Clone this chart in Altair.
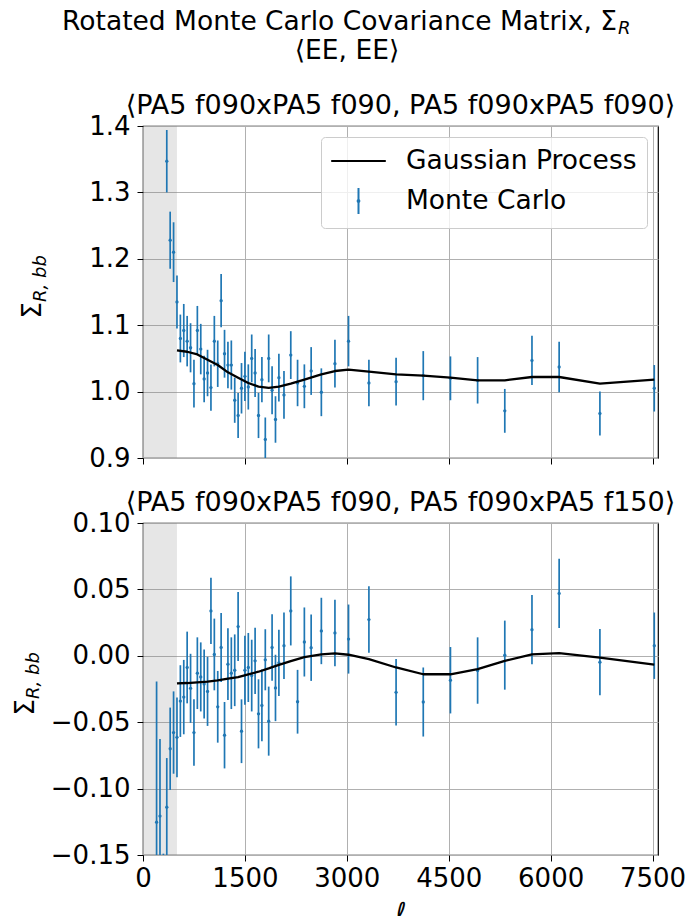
import altair as alt
import pandas as pd

# ---------------- data ----------------
SERIES = ["Gaussian Process", "Monte Carlo"]
BLUE = "#1f77b4"
FONT = "DejaVu Sans"

MASK_LO = [0]
MASK_HI = [500]

ELL_LOW = [200, 250, 300]
ELL_MAIN = [350, 400, 450, 500, 550, 600, 650, 700, 750, 800, 850, 900, 950, 1000,
            1050, 1100, 1150, 1200, 1250, 1300, 1350, 1400, 1450, 1500, 1550, 1600,
            1650, 1700, 1750, 1800, 1850, 1900, 1950, 2000, 2075, 2175, 2275, 2375,
            2475, 2625, 2825, 3025, 3325, 3725, 4125, 4525, 4925, 5325, 5725, 6125,
            6725, 7525]

VAL_TOP = [1.347, 1.228, 1.210, 1.135, 1.080, 1.092, 1.076, 1.066, 1.012, 1.092,
           1.064, 1.019, 1.028, 1.006, 1.076, 1.042, 1.137, 1.057, 1.040, 1.040,
           0.987, 0.964, 1.005, 1.023, 1.007, 1.050, 1.028, 0.964, 1.018, 0.928,
           1.050, 1.002, 0.958, 1.021, 0.995, 1.055, 1.013, 1.008, 1.031, 0.999,
           1.042, 1.076, 1.013, 1.015, 1.024, 1.020, 1.017, 0.971, 1.047, 1.037,
           0.967, 1.005]
ERR_TOP = [0.047, 0.043, 0.045, 0.040, 0.036, 0.040, 0.038, 0.037, 0.036, 0.037,
           0.038, 0.035, 0.035, 0.035, 0.038, 0.035, 0.040, 0.036, 0.035, 0.037,
           0.034, 0.034, 0.038, 0.037, 0.034, 0.036, 0.036, 0.034, 0.034, 0.033,
           0.036, 0.036, 0.035, 0.036, 0.036, 0.036, 0.035, 0.033, 0.036, 0.036,
           0.036, 0.038, 0.035, 0.036, 0.037, 0.033, 0.035, 0.033, 0.037, 0.038,
           0.033, 0.035]

VAL_BOT = [-0.1253, -0.1207, -0.175, -0.114, -0.070, -0.0578, -0.0614, -0.0341,
           -0.0311, -0.0088, -0.0245, -0.0578, -0.0131, -0.0159, -0.0212, -0.0268,
           0.0338, 0.0010, -0.0384, 0.0063, -0.0598, -0.0063, -0.0131, -0.0109,
           0.0220, -0.0568, -0.0109, -0.0088, -0.0149, -0.0038, -0.0437, -0.0374,
           -0.0030, -0.0492, 0.0063, -0.0242, -0.0053, 0.0076, 0.0338, -0.0346,
           0.0104, 0.0061, 0.0187, 0.0172, 0.0126, 0.0273, -0.0275, -0.0348,
           -0.0184, -0.0111, 0.0005, 0.0197, 0.0470, -0.0048, 0.0076]
ERR_BOT = [0.106, 0.058, 0.026, 0.037, 0.031, 0.031, 0.030, 0.027, 0.028, 0.027,
           0.026, 0.025, 0.027, 0.026, 0.026, 0.026, 0.025, 0.027, 0.027, 0.026,
           0.025, 0.027, 0.027, 0.027, 0.026, 0.024, 0.026, 0.026, 0.027, 0.025,
           0.026, 0.027, 0.023, 0.026, 0.025, 0.025, 0.025, 0.025, 0.026, 0.024,
           0.026, 0.025, 0.025, 0.025, 0.026, 0.025, 0.025, 0.026, 0.025, 0.025,
           0.026, 0.026, 0.026, 0.025, 0.025]

GP_ELL = [500, 650, 800, 950, 1100, 1250, 1400, 1550, 1700, 1850, 2000, 2175, 2375,
          2625, 2825, 3025, 3325, 3725, 4125, 4525, 4925, 5325, 5725, 6125, 6725, 7525]
GP_TOP = [1.062, 1.060, 1.056, 1.048, 1.040, 1.029, 1.021, 1.013, 1.0075, 1.0055,
          1.0075, 1.012, 1.018, 1.026, 1.031, 1.033, 1.030, 1.026, 1.024, 1.021,
          1.017, 1.017, 1.022, 1.022, 1.012, 1.018]
GP_BOT = [-0.0207, -0.0205, -0.0200, -0.0195, -0.0185, -0.0172, -0.0160, -0.0140,
          -0.0120, -0.0095, -0.0068, -0.0040, -0.0010, 0.0010, 0.0018, 0.0008,
          -0.0025, -0.0088, -0.0139, -0.0139, -0.0101, -0.0038, 0.0010, 0.0020,
          -0.0013, -0.0066]

X_DOMAIN = [0, 7580]
X_TICKS = [0, 1500, 3000, 4500, 6000, 7500]
Y_TOP_DOMAIN = [0.9, 1.4]
Y_TOP_TICKS = [0.9, 1.0, 1.1, 1.2, 1.3, 1.4]
Y_BOT_DOMAIN = [-0.15, 0.10]
Y_BOT_TICKS = [-0.15, -0.10, -0.05, 0.0, 0.05, 0.10]

TITLE_MAIN = "Rotated Monte Carlo Covariance Matrix, Σ"
TITLE_MAIN_SUB = "R"
TITLE_LINE2 = "⟨EE, EE⟩"
SUBTITLES = ["⟨PA5 f090xPA5 f090, PA5 f090xPA5 f090⟩",
             "⟨PA5 f090xPA5 f090, PA5 f090xPA5 f150⟩"]
YLAB_MAIN = "Σ"
YLAB_SUB = "R, bb"
XLAB = "ℓ"

W, H = 515, 332

LEGEND_SHAPES = ("datum.value === 'Monte Carlo' ? "
                 "'M0,-1V1M-0.07,0A0.07,0.07 0 1,0 0.07,0A0.07,0.07 0 1,0 -0.07,0' "
                 ": 'M-2.1,0H2.1'")


def text_layer(s, x, y, size=26, align="center", style="normal", angle=0):
    return alt.Chart(pd.DataFrame({"t": [s]})).mark_text(
        align=align, baseline="alphabetic", fontSize=size, font=FONT,
        fontStyle=style, angle=angle, color="black"
    ).encode(text="t:N", x=alt.value(x), y=alt.value(y))


def panel(ell, val, err, gp, ydom, yticks, yfmt, subtitle, bottom, legend, ylab_x):
    df = pd.DataFrame({"ell": ell, "val": val, "err": err})
    df["lo"] = df["val"] - df["err"]
    df["hi"] = df["val"] + df["err"]
    df["series"] = SERIES[1]
    gdf = pd.DataFrame({"ell": GP_ELL, "gp": gp, "series": SERIES[0]})
    mdf = pd.DataFrame({"x0": MASK_LO, "x1": MASK_HI})

    xaxis = alt.Axis(values=X_TICKS, format="d", labels=bottom,
                     title=XLAB if bottom else None,
                     titleFontStyle="italic", titleFontSize=26, titleFont=FONT,
                     titlePadding=8, labelPadding=4)
    xs = alt.Scale(domain=X_DOMAIN, nice=False, zero=False)
    ys = alt.Scale(domain=ydom, nice=False, zero=False)
    yaxis = alt.Axis(values=yticks, format=yfmt, title=None, labelPadding=7)

    mask = alt.Chart(mdf).mark_rect(color="gray", opacity=0.2).encode(
        x=alt.X("x0:Q", scale=xs, axis=xaxis), x2="x1:Q")

    if legend:
        sscale = alt.Scale(domain=SERIES, range=["black", BLUE])
        leg = alt.Legend(
            title=None, orient="top-right", offset=11,
            fillColor="rgba(255,255,255,0.8)", strokeColor="#cccccc",
            cornerRadius=4, padding=10, labelFont=FONT, labelFontSize=26.5,
            labelColor="black", labelLimit=500, symbolSize=676,
            symbolStrokeWidth=2, symbolOffset=13.5, labelOffset=33.5, rowPadding=9,
            symbolType=alt.ExprRef(expr=LEGEND_SHAPES), symbolOpacity=1)
        bar_stroke = alt.Stroke("series:N", scale=sscale, legend=leg)
        line_stroke = alt.Stroke("series:N", scale=sscale, legend=leg)
    else:
        bar_stroke = alt.value(BLUE)
        line_stroke = alt.value("black")

    bars = alt.Chart(df).mark_rule(strokeWidth=1.7, clip=True).encode(
        x=alt.X("ell:Q", scale=xs, axis=xaxis),
        y=alt.Y("lo:Q", scale=ys, axis=yaxis), y2="hi:Q",
        stroke=bar_stroke)
    pts = alt.Chart(df).mark_circle(color=BLUE, size=11, opacity=1, clip=True).encode(
        x=alt.X("ell:Q", scale=xs, axis=xaxis),
        y=alt.Y("val:Q", scale=ys, axis=yaxis))
    line = alt.Chart(gdf).mark_line(strokeWidth=2.3, clip=True, strokeJoin="round").encode(
        x=alt.X("ell:Q", scale=xs, axis=xaxis),
        y=alt.Y("gp:Q", scale=ys, axis=yaxis),
        stroke=line_stroke)

    layers = [mask, bars, pts, line,
              text_layer(subtitle, W / 2, -12, size=27),
              text_layer(YLAB_MAIN, ylab_x, 176, align="right", angle=270),
              text_layer(YLAB_SUB, ylab_x + 5, 176, size=18, align="left",
                         style="italic", angle=270)]
    if not bottom:
        layers += [text_layer(TITLE_MAIN, 474, -96, size=26.5, align="right"),
                   text_layer(TITLE_MAIN_SUB, 475, -92, size=18, align="left",
                              style="italic"),
                   text_layer(TITLE_LINE2, 204, -67.5, size=26.5)]
    return alt.layer(*layers).properties(width=W, height=H)


top = panel(ELL_MAIN, VAL_TOP, ERR_TOP, GP_TOP, Y_TOP_DOMAIN, Y_TOP_TICKS, ".1f",
            SUBTITLES[0], False, True, -102)
bot = panel(ELL_LOW + ELL_MAIN, VAL_BOT, ERR_BOT, GP_BOT, Y_BOT_DOMAIN, Y_BOT_TICKS,
            ".2f", SUBTITLES[1], True, False, -109)

chart = alt.vconcat(top, bot, spacing=65, bounds="flush").resolve_scale(
    stroke="independent").resolve_legend(stroke="independent").properties(
    padding={"left": 12, "top": 8, "right": 0, "bottom": -8},
    background="white"
).configure_axis(
    labelFont=FONT, labelFontSize=26, labelColor="black", tickColor="black",
    tickSize=6, tickWidth=1, domain=False, grid=True, gridColor="#b0b0b0",
    gridWidth=1, labelOverlap=False, labelFlush=False, titleColor="black",
    titleFontWeight="normal"
).configure_view(stroke="black", strokeWidth=1.2)

chart.save("out.html", embed_options={"renderer": "svg", "actions": False})
